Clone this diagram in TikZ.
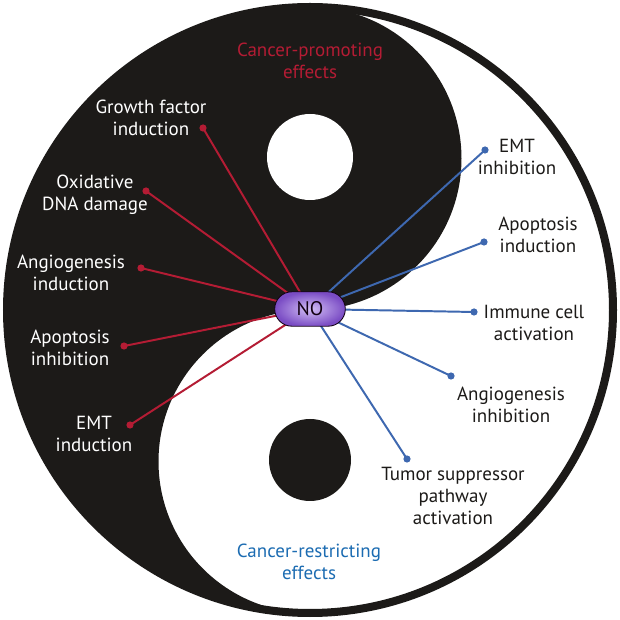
\documentclass[tikz,border=0pt]{standalone}
\usepackage{fontspec}
\setmainfont{PT Sans}
\usetikzlibrary{shapes.misc}
\usetikzlibrary{positioning}
\definecolor{promo_red}{RGB}{180,28,52}
\definecolor{restrict_blue}{RGB}{62,104,176}
\definecolor{title_blue}{RGB}{28,108,178}
\definecolor{ink}{RGB}{28,26,24}
\tikzstyle{dark_label} = [
    white,
    align=center,
    inner sep=0pt,
    font=\fontsize{13.5}{15.6}\selectfont
]
\tikzstyle{light_label} = [
    text=ink,
    align=center,
    inner sep=0pt,
    font=\fontsize{13.5}{15.6}\selectfont
]
\tikzstyle{red_dot} = [
    circle,
    fill=promo_red,
    inner sep=0pt,
    minimum size=0.18cm
]
\tikzstyle{blue_dot} = [
    circle,
    fill=restrict_blue,
    inner sep=0pt,
    minimum size=0.18cm
]
\tikzstyle{red_line} = [
    promo_red,
    line width=1.4pt
]
\tikzstyle{blue_line} = [
    restrict_blue,
    line width=1.4pt
]
\tikzstyle{no_node} = [
    rounded rectangle,
    draw=black!85!violet,
    line width=0.6pt,
    inner color={rgb,255:red,210;green,190;blue,245},
    outer color={rgb,255:red,122;green,76;blue,196},
    minimum width=2.0cm,
    minimum height=0.86cm,
    text=black!85!violet,
    font=\fontsize{14}{16}\selectfont
]

\begin{document}
\begin{tikzpicture}[x=0.025cm, y=0.025cm]
\useasboundingbox (0,0) rectangle (620,620);
% yin-yang
\fill[white] (310,310) circle (303);
\fill[ink] (310,613) arc (90:270:303)
    arc (-90:-270:151.5)
    arc (-90:90:151.5) -- cycle;
\fill[white] (310,463) circle (43);
\fill[ink] (310,160) circle (41);
\draw[ink, line width=0.2cm] (310,310) circle (303);

\coordinate (no_c) at (310,311);

% cancer-promoting side
\node [red_dot] (gf_dot) at (203,492) {};
\node [red_dot] (ox_dot) at (146,429) {};
\node [red_dot] (ang_dot) at (141,352) {};
\node [red_dot] (apo_dot) at (124,274) {};
\node [red_dot] (emt_dot) at (130,195) {};
\node [dark_label] (gf) at (151,502) {Growth factor\\induction};
\node [dark_label] (ox) at (95,425) {Oxidative\\DNA damage};
\node [dark_label] (ang) at (71,347) {Angiogenesis\\induction};
\node [dark_label] (apo) at (70,272) {Apoptosis\\inhibition};
\node [dark_label] (emt) at (94,186) {EMT\\induction};
\foreach \d in {gf_dot, ox_dot, ang_dot, apo_dot, emt_dot}
    \draw [red_line] (no_c) -- (\d.center);

% cancer-restricting side
\node [blue_dot] (emti_dot) at (485,470) {};
\node [blue_dot] (apoi_dot) at (484,378) {};
\node [blue_dot] (imm_dot) at (474,308) {};
\node [blue_dot] (angi_dot) at (451,244) {};
\node [blue_dot] (tum_dot) at (407,161) {};
\node [light_label] (emti) at (517,463) {EMT\\inhibition};
\node [light_label] (apoi) at (538,385) {Apoptosis\\induction};
\node [light_label] (imm) at (534,297) {Immune cell\\activation};
\node [light_label] (angi) at (511,215) {Angiogenesis\\inhibition};
\node [light_label] (tum) at (453,124) {Tumor suppressor\\pathway\\activation};
\foreach \d in {emti_dot, apoi_dot, imm_dot, angi_dot, tum_dot}
    \draw [blue_line] (no_c) -- (\d.center);

\node [no_node] (no) at (no_c) {NO};

% titles
\node [dark_label, text=promo_red] (promo) at (310,559) {Cancer-promoting\\effects};
\node [light_label, text=title_blue] (restrict) at (309,58) {Cancer-restricting\\effects};
\end{tikzpicture}
\end{document}
